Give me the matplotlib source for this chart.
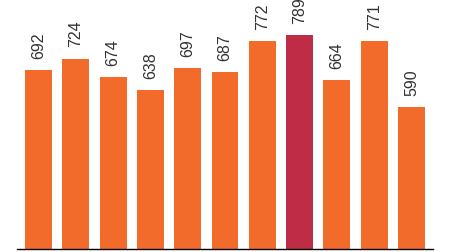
import matplotlib

matplotlib.use("Agg")
import matplotlib.pyplot as plt

# valores
values = [692, 724, 674, 638, 697, 687, 772, 789, 664, 771, 590]
highlight = 7  # barra destacada (maximo)

ORANGE = "#F36B2B"
RED = "#BE2D45"


def main() -> None:
    fig = plt.figure(figsize=(4.49, 2.52), dpi=100)
    ax = fig.add_axes([17 / 449, 3 / 252, 416 / 449, 249 / 252])

    x = list(range(len(values)))
    colors = [RED if i == highlight else ORANGE for i in x]
    ax.bar(x, values, width=0.72, color=colors, bottom=0)

    for xi, v in zip(x, values):
        ax.annotate(
            f"{v}",
            (xi, v),
            xytext=(0, 8),
            textcoords="offset points",
            rotation=90,
            ha="center",
            va="bottom",
            fontsize=11.5,
            color="#333333",
            family="Liberation Sans",
            annotation_clip=False,
        )

    ax.set_xlim(-0.576, len(values) - 1 + 0.576)
    ax.set_ylim(200, 885)
    for side in ("top", "right", "left"):
        ax.spines[side].set_visible(False)
    ax.spines["bottom"].set_color("black")
    ax.spines["bottom"].set_linewidth(1.0)
    ax.set_xticks([])
    ax.set_yticks([])
    ax.patch.set_alpha(0)

    fig.savefig("out.png", dpi=100)
    plt.close(fig)


if __name__ == "__main__":
    main()
